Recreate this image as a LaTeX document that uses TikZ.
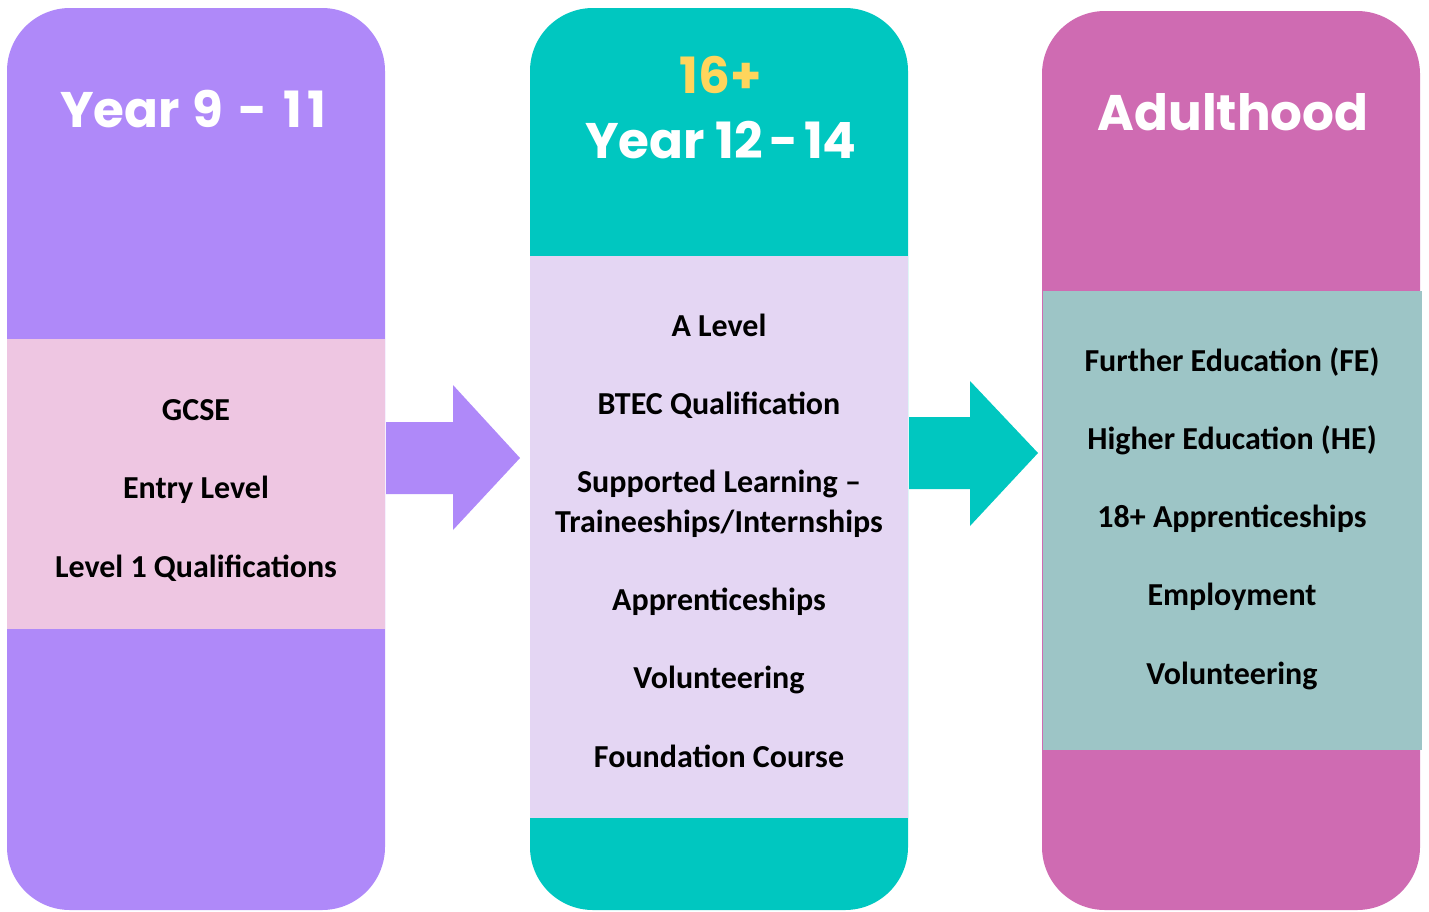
\documentclass[tikz,border=0pt]{standalone}
\usepackage{fontspec}
\newfontfamily\titlefont{Poppins}
\newfontfamily\bodyfont{Carlito}
\definecolor{purp}{HTML}{AF89F9}
\definecolor{pinkband}{HTML}{EEC6E2}
\definecolor{teal}{HTML}{00C7C0}
\definecolor{lav}{HTML}{E4D6F3}
\definecolor{mag}{HTML}{CF6BB2}
\definecolor{sage}{HTML}{9DC5C6}
\definecolor{gold}{HTML}{FFD55C}
\begin{document}
\begin{tikzpicture}[x=1pt,y=-1pt,
  col/.style={rounded corners=63pt},
  title/.style={font=\titlefont\bfseries\fontsize{50}{60}\selectfont, text=white, anchor=base, inner sep=0pt},
  body/.style={font=\bodyfont\bfseries\fontsize{32}{38}\selectfont, text=black, anchor=base, inner sep=0pt}]
\useasboundingbox (0,0) rectangle (1429,911);
% columns
\fill[purp, col] (7,8) rectangle (385,910);
\fill[pinkband] (7,339) rectangle (385,629);
\fill[teal, col] (530,8) rectangle (908,910);
\fill[lav] (530,256) rectangle (908,818);
\fill[mag, col] (1042,11) rectangle (1420,910);
\fill[sage] (1043,291) rectangle (1422,750);
% arrows
\fill[purp] (386,422) -- (453,422) -- (453,385) -- (520,458) -- (453,530) -- (453,494) -- (386,494) -- cycle;
\fill[teal] (909,417) -- (970,417) -- (970,381) -- (1038,453) -- (970,526) -- (970,489) -- (909,489) -- cycle;
% titles
\node[title] (t1) at (193,127) {Year\hspace{2pt} 9 \hspace{5pt}-\hspace{5pt} 1\hspace{5pt}1};
\node[title, text=gold] (t2a) at (721,93) {16+};
\node[title] (t2b) at (721,158) {Year 12\hspace{6pt}-\hspace{6pt}14};
\node[title] (t3) at (1233,130) {Adulthood};
% column 1
\node[body] (a1) at (196,420) {GCSE};
\node[body] (a2) at (196,498) {Entry Level};
\node[body] (a3) at (196,577) {Level 1 Qualifications};
% column 2
\node[body] (b1) at (719,336) {A Level};
\node[body] (b2) at (719,414) {BTEC Qualification};
\node[body] (b3) at (719,492) {Supported Learning –};
\node[body] (b4) at (719,532) {Traineeships/Internships};
\node[body] (b5) at (719,610) {Apprenticeships};
\node[body] (b6) at (719,688) {Volunteering};
\node[body] (b7) at (719,767) {Foundation Course};
% column 3
\node[body] (c1) at (1232,371) {Further Education (FE)};
\node[body] (c2) at (1232,449) {Higher Education (HE)};
\node[body] (c3) at (1232,527) {18+ Apprenticeships};
\node[body] (c4) at (1232,605) {Employment};
\node[body] (c5) at (1232,684) {Volunteering};
\end{tikzpicture}
\end{document}
